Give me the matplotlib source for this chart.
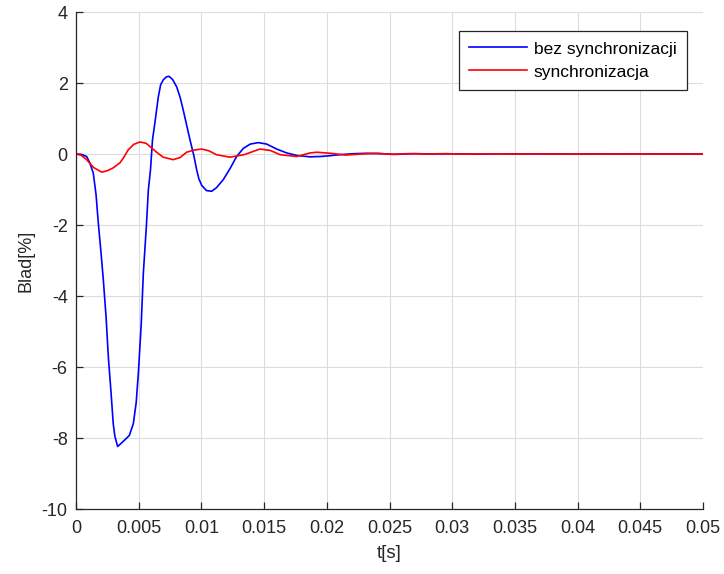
import numpy as np
import matplotlib
matplotlib.use("Agg")
import matplotlib.pyplot as plt

plt.rcParams['font.family'] = ['Liberation Sans', 'DejaVu Sans']

# Error of the response without synchronization
t_bez = [0.0, 0.0004, 0.00085, 0.0011, 0.00138, 0.0016, 0.00178, 0.002, 0.00218,
         0.0024, 0.00258, 0.0028, 0.00297, 0.0031, 0.00332, 0.0036, 0.0039, 0.00425,
         0.00457, 0.0048, 0.00497, 0.0052, 0.00537, 0.0056, 0.00577, 0.00594, 0.0061,
         0.0063, 0.00656, 0.00675, 0.00696, 0.0072, 0.00741, 0.0077, 0.00803, 0.0083,
         0.00855, 0.0088, 0.00909, 0.0094, 0.00962, 0.0098, 0.01002, 0.0104, 0.01082,
         0.0112, 0.01175, 0.0123, 0.01281, 0.01335, 0.0139, 0.01454, 0.0152, 0.016,
         0.0168, 0.0176, 0.01866, 0.0195, 0.0202, 0.021, 0.0222, 0.0232, 0.0242,
         0.0255, 0.027, 0.0285, 0.03, 0.032, 0.034, 0.036, 0.038, 0.04, 0.042,
         0.044, 0.046, 0.048, 0.05]
e_bez = [0.0, -0.01, -0.07, -0.25, -0.54, -1.15, -1.95, -2.8, -3.55,
         -4.6, -5.72, -6.75, -7.6, -7.95, -8.24, -8.15, -8.05, -7.93,
         -7.6, -7.0, -6.19, -4.8, -3.36, -2.1, -1.01, -0.45, 0.4,
         0.9, 1.6, 1.95, 2.09, 2.17, 2.19, 2.1, 1.89, 1.6,
         1.24, 0.85, 0.4, -0.05, -0.44, -0.7, -0.88, -1.03, -1.05,
         -0.95, -0.72, -0.4, -0.07, 0.16, 0.28, 0.32, 0.28, 0.14,
         0.03, -0.04, -0.08, -0.07, -0.05, -0.02, 0.01, 0.02, 0.01,
         -0.01, 0.01, 0.0, 0.005, -0.005, 0.005, 0.0, 0.003, -0.003, 0.002,
         0.0, 0.002, 0.0, 0.0]

# Error of the response with synchronization
t_syn = [0.0, 0.0004, 0.00085, 0.0014, 0.00205, 0.0025, 0.00297, 0.0035, 0.0038,
         0.00417, 0.0046, 0.0051, 0.0056, 0.00603, 0.0065, 0.00696, 0.00775, 0.0083,
         0.00882, 0.0094, 0.01002, 0.0106, 0.0112, 0.01228, 0.0134, 0.01467, 0.0155,
         0.01627, 0.0176, 0.01866, 0.0192, 0.0203, 0.0215, 0.0228, 0.024, 0.0252,
         0.0265, 0.028, 0.0295, 0.031, 0.033, 0.035, 0.037, 0.039, 0.041,
         0.043, 0.045, 0.047, 0.05]
e_syn = [0.0, -0.03, -0.16, -0.38, -0.51, -0.47, -0.39, -0.25, -0.1,
         0.12, 0.27, 0.34, 0.3, 0.17, 0.03, -0.09, -0.16, -0.1,
         0.05, 0.11, 0.14, 0.09, -0.02, -0.09, -0.02, 0.14, 0.1,
         -0.02, -0.07, 0.03, 0.05, 0.02, -0.03, 0.0, 0.02, -0.01,
         0.01, 0.0, 0.01, -0.005, 0.005, 0.0, 0.004, -0.003, 0.003,
         0.0, 0.002, 0.0, 0.0]

fig = plt.figure(figsize=(7.24, 5.74), dpi=100)
ax = fig.add_axes([76 / 724, 1 - 509 / 574, (703 - 76) / 724, (509 - 12) / 574])

ax.plot(t_bez, e_bez, color='#0000ff', lw=1.2, label='bez synchronizacji')
ax.plot(t_syn, e_syn, color='#ff0000', lw=1.2, label='synchronizacja')

ax.set_xlim(0, 0.05)
ax.set_ylim(-10, 4)
ax.set_xticks(np.arange(0, 0.0501, 0.005))
ax.set_xticklabels(['0', '0.005', '0.01', '0.015', '0.02', '0.025', '0.03',
                    '0.035', '0.04', '0.045', '0.05'])
ax.set_yticks(np.arange(-10, 4.1, 2))
ax.set_yticklabels([str(v) for v in range(-10, 5, 2)])

ax.grid(True, color='#dcdcdc', lw=0.8)
ax.set_axisbelow(True)
for s in ('top', 'right'):
    ax.spines[s].set_visible(False)
for s in ('left', 'bottom'):
    ax.spines[s].set_color('#262626')
    ax.spines[s].set_linewidth(0.9)
ax.tick_params(direction='in', length=5, width=0.9, colors='#262626',
               labelsize=13, labelcolor='#262626')
ax.tick_params(axis='x', pad=8)
ax.tick_params(axis='y', pad=6)

ax.set_xlabel('t[s]', fontsize=13.5, color='#262626', labelpad=6)
ax.set_ylabel('Blad[%]', fontsize=13, color='#262626', labelpad=5)

leg = ax.legend(loc='upper left', bbox_to_anchor=((459 - 76) / 627, (509 - 31) / 497),
                fontsize=12.5, frameon=True, fancybox=False, framealpha=1,
                edgecolor='#262626', handlelength=3.3, borderpad=0.6,
                labelspacing=0.45, handletextpad=0.4, borderaxespad=0)
leg.get_frame().set_linewidth(0.9)

fig.savefig('out.png', dpi=100)
